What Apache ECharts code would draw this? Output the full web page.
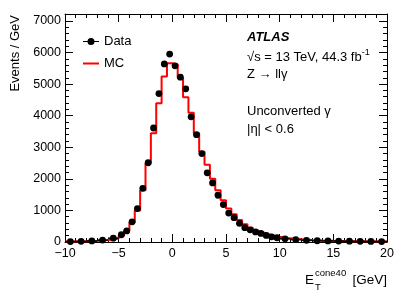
<!DOCTYPE html>
<html>
<head>
<meta charset="utf-8">
<script src="https://cdn.jsdelivr.net/npm/echarts@6/dist/echarts.min.js"></script>
<style>
html,body{margin:0;padding:0;background:#fff;}
#c{width:407px;height:292px;}
</style>
</head>
<body>
<div id="c"></div>
<script>
// Bin edges (variable width) of E_T^cone40 [GeV]
const binEdges = [-10,-9,-8,-7,-6,-5,
  -4.5,-4,-3.5,-3,-2.5,-2,-1.5,-1,-0.5,0,0.5,1,1.5,2,2.5,3,3.5,4,4.5,5,5.5,6,6.5,7,7.5,8,8.5,9,9.5,10,
  11,12,13,14,15,16,17,18,19,20];
// Data: events / GeV per bin
const dataValues = [15,20,35,60,120,
  230,350,640,1060,1700,2510,3610,4700,5640,5950,5580,5220,4850,3965,3400,2800,2190,1870,1480,1185,915,770,590,455,385,320,270,207,165,135,
  100,75,52,40,35,30,25,20,18,15];
// MC: events / GeV per bin
const mcValues = [15,20,35,60,110,
  200,360,620,1000,1640,2490,3440,4395,5240,5660,5620,5190,4585,4090,3440,2856,2450,2000,1640,1320,1060,880,700,560,450,370,305,245,200,165,
  115,85,60,45,38,32,27,22,18,15];
const xTicks = [-10,-5,0,5,10,15,20];
const yTicks = [0,1000,2000,3000,4000,5000,6000,7000];

const dataSeries = dataValues.map((v,i)=>[binEdges[i], binEdges[i+1], v]);
const mcStep = [];
mcValues.forEach((v,i)=>{ mcStep.push([binEdges[i], v]); mcStep.push([binEdges[i+1], v]); });

const FONT = 'Liberation Sans, Arial, Helvetica, sans-serif';
const chart = echarts.init(document.getElementById('c'), null, {renderer:'canvas'});

function axisCommon(){
  return {
    axisLine:{show:true, onZero:false, lineStyle:{color:'#000', width:1}},
    axisTick:{show:true, inside:true, length:8, lineStyle:{color:'#000'}},
    minorTick:{show:true, length:4, splitNumber:5, lineStyle:{color:'#000'}},
    splitLine:{show:false}
  };
}

chart.setOption({
  animation:false,
  backgroundColor:'#fff',
  grid:{left:65, right:20, top:14, bottom:50},
  xAxis:[
    Object.assign({type:'value', min:xTicks[0], max:xTicks[xTicks.length-1], interval:5, position:'bottom',
      axisLabel:{color:'#000', fontSize:12.5, fontFamily:FONT, margin:5,
        formatter:v=> (v<0? '\u2212'+Math.abs(v) : String(v))}}, axisCommon()),
    Object.assign({type:'value', min:xTicks[0], max:xTicks[xTicks.length-1], interval:5, position:'top',
      axisLabel:{show:false}}, axisCommon())
  ],
  yAxis:[
    Object.assign({type:'value', min:0, max:7220, interval:1000, position:'left',
      axisLabel:{color:'#000', fontSize:12.5, fontFamily:FONT, margin:4, showMaxLabel:false,
        formatter:v=> yTicks.indexOf(v)>=0 ? String(v) : ''}}, axisCommon()),
    Object.assign({type:'value', min:0, max:7220, interval:1000, position:'right',
      axisLabel:{show:false}}, axisCommon())
  ],
  legend:{
    orient:'vertical', left:83, top:35, itemGap:9, itemWidth:16, itemHeight:7, padding:0,
    textStyle:{color:'#000', fontSize:13, fontFamily:FONT},
    data:[
      {name:'Data', icon:'path://M0,3.4 L16,3.4 L16,4.6 L0,4.6 Z M4.5,4 A3.5,3.5 0 1,1 11.5,4 A3.5,3.5 0 1,1 4.5,4 Z',
        itemStyle:{color:'#000', borderWidth:0}},
      {name:'MC', icon:'path://M0,3 L16,3 L16,5 L0,5 Z', itemStyle:{color:'#ff0000', borderWidth:0}}
    ]
  },
  series:[
    {
      name:'MC', type:'line', data:mcStep, xAxisIndex:0, yAxisIndex:0,
      symbol:'none', lineStyle:{color:'#ff0000', width:2}, itemStyle:{color:'#ff0000'}, z:2
    },
    {
      name:'Data', type:'custom', data:dataSeries, xAxisIndex:0, yAxisIndex:0, z:3,
      itemStyle:{color:'#000'},
      encode:{x:[0,1], y:2},
      renderItem:function(params, api){
        const lo = api.value(0), hi = api.value(1), v = api.value(2);
        const p1 = api.coord([lo, v]), p2 = api.coord([hi, v]), pc = api.coord([(lo+hi)/2, v]);
        return {type:'group', children:[
          {type:'line', shape:{x1:p1[0], y1:p1[1], x2:p2[0], y2:p2[1]}, style:{stroke:'#000', lineWidth:1.5}},
          {type:'circle', shape:{cx:pc[0], cy:pc[1], r:3.4}, style:{fill:'#000'}}
        ]};
      }
    }
  ],
  graphic:[
    {type:'text', x:15, y:15, rotation:Math.PI/2,
      style:{text:'Events / GeV', fill:'#000', font:'13px '+FONT, align:'right', verticalAlign:'middle'}},
    {type:'text', x:387, y:280, style:{text:'[GeV]', fill:'#000', font:'13.5px '+FONT, align:'right', verticalAlign:'middle'}},
    {type:'text', x:315, y:273, style:{text:'cone40', fill:'#000', font:'9.5px '+FONT, align:'left', verticalAlign:'middle'}},
    {type:'text', x:315, y:287, style:{text:'T', fill:'#000', font:'9.5px '+FONT, align:'left', verticalAlign:'middle'}},
    {type:'text', x:314, y:280, style:{text:'E', fill:'#000', font:'13.5px '+FONT, align:'right', verticalAlign:'middle'}},
    {type:'text', x:247, y:37, style:{text:'ATLAS', fill:'#000', font:'italic bold 13px '+FONT, verticalAlign:'middle'}},
    {type:'text', x:247, y:56, style:{
      text:'{a|\u221As = 13 TeV, 44.3 fb}{s|-1}', verticalAlign:'middle',
      rich:{a:{fill:'#000', fontSize:13, fontFamily:FONT, lineHeight:15, verticalAlign:'bottom'},
            s:{fill:'#000', fontSize:9, fontFamily:FONT, lineHeight:15, verticalAlign:'top'}}}},
    {type:'text', x:247, y:74, style:{text:'Z \u2192 ll\u03B3', fill:'#000', font:'13px '+FONT, verticalAlign:'middle'}},
    {type:'text', x:247, y:111, style:{text:'Unconverted \u03B3', fill:'#000', font:'13px '+FONT, verticalAlign:'middle'}},
    {type:'text', x:247, y:129, style:{text:'|\u03B7| < 0.6', fill:'#000', font:'13px '+FONT, verticalAlign:'middle'}}
  ]
});
</script>
</body>
</html>
